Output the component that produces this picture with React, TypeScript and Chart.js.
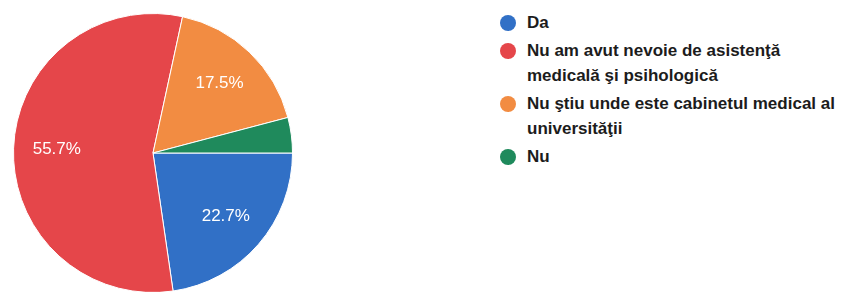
import React, { useEffect, useRef } from "react";
import { Chart, registerables } from "chart.js";

Chart.register(...registerables);

const categories = [
  "Da",
  "Nu am avut nevoie de asistență medicală și psihologică",
  "Nu știu unde este cabinetul medical al universității",
  "Nu",
];
const legendLines = [
  ["Da"],
  ["Nu am avut nevoie de asistenţă", "medicală şi psihologică"],
  ["Nu ştiu unde este cabinetul medical al", "universităţii"],
  ["Nu"],
];
const percentages = [22.7, 55.7, 17.5, 4.1];
const colors = ["#3170c6", "#e5464a", "#f28c42", "#1f8a5c"];

const labelPlugin = {
  id: "sliceLabels",
  afterDatasetsDraw(chart: any) {
    const ctx = chart.ctx;
    const meta = chart.getDatasetMeta(0);
    ctx.save();
    ctx.fillStyle = "#ffffff";
    ctx.font = "17px 'Liberation Sans', Arial, sans-serif";
    ctx.textAlign = "center";
    ctx.textBaseline = "middle";
    meta.data.forEach((arc: any, i: number) => {
      const v = percentages[i];
      if (v < 5) return;
      const { x, y, startAngle, endAngle, outerRadius } = arc.getProps(
        ["x", "y", "startAngle", "endAngle", "outerRadius"],
        true
      );
      const mid = (startAngle + endAngle) / 2;
      const r = outerRadius * 0.69;
      ctx.fillText(v.toFixed(1) + "%", x + Math.cos(mid) * r, y + Math.sin(mid) * r);
    });
    ctx.restore();
  },
};

export default function App() {
  const ref = useRef<HTMLCanvasElement | null>(null);
  useEffect(() => {
    document.body.style.margin = "0";
    document.body.style.overflow = "hidden";
    const chart = new Chart(ref.current as HTMLCanvasElement, {
      type: "pie",
      data: {
        labels: categories,
        datasets: [
          {
            data: percentages,
            backgroundColor: colors,
            borderColor: "#ffffff",
            borderWidth: 1,
          },
        ],
      },
      options: {
        responsive: false,
        animation: false,
        rotation: 90,
        layout: { padding: 13 },
        plugins: {
          legend: { display: false },
          tooltip: { enabled: false },
        },
      },
      plugins: [labelPlugin],
    });
    return () => chart.destroy();
  }, []);

  return (
    <div
      style={{
        position: "relative",
        width: 845,
        height: 292,
        overflow: "hidden",
        background: "#ffffff",
      }}
    >
      <canvas
        ref={ref}
        width={306}
        height={306}
        style={{ position: "absolute", left: 0, top: 0, width: 306, height: 306 }}
      />
      <div
        style={{
          position: "absolute",
          left: 500,
          top: 10,
          fontFamily: "'Liberation Sans', Arial, sans-serif",
          fontWeight: "bold",
          fontSize: 17,
          color: "#1c1c1c",
          lineHeight: "25px",
          whiteSpace: "nowrap",
        }}
      >
        {legendLines.map((lines, i) => (
          <div key={i} style={{ display: "flex", alignItems: "flex-start", marginBottom: 3 }}>
            <span
              style={{
                width: 16,
                height: 16,
                borderRadius: "50%",
                background: colors[i],
                marginTop: 5,
                marginRight: 11,
                flex: "none",
              }}
            />
            <div>
              {lines.map((l, j) => (
                <div key={j}>{l}</div>
              ))}
            </div>
          </div>
        ))}
      </div>
    </div>
  );
}
